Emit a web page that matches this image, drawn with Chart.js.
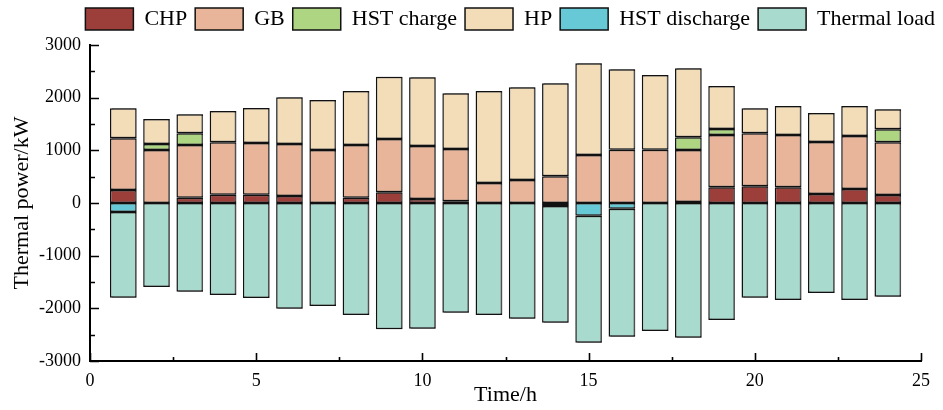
<!DOCTYPE html>
<html>
<head>
<meta charset="utf-8">
<script src="https://cdn.jsdelivr.net/npm/chart.js@4.4.0/dist/chart.umd.min.js"></script>
<style>
    html, body { margin: 0; padding: 0; background: #ffffff; }
    #wrap { width: 943px; height: 410px; }
</style>
</head>
<body>
<div id="wrap"><canvas id="heatChart"></canvas></div>
<script>
// ############ data (kW per hour) ############
const hours = [1, 2, 3, 4, 5, 6, 7, 8, 9, 10, 11, 12, 13, 14, 15, 16, 17, 18, 19, 20, 21, 22, 23, 24];

const chp = [245, 0, 100, 155, 155, 135, 0, 100, 205, 75, 35, 0, 0, 0, 0, 0, 0, 20, 300, 320, 300, 170, 265, 150];
const gb = [985, 1005, 1000, 1000, 985, 985, 1005, 1000, 1010, 1005, 990, 380, 435, 510, 910, 1010, 1010, 985, 990, 1005, 990, 990, 1005, 1005];
const hstCharge = [0, 115, 225, 0, 0, 0, 0, 0, 0, 0, 0, 0, 0, 0, 0, 0, 0, 245, 115, 0, 0, 0, 0, 245];
const hp = [570, 475, 360, 590, 665, 890, 950, 1025, 1180, 1310, 1060, 1745, 1765, 1765, 1745, 1530, 1420, 1310, 815, 475, 550, 550, 570, 380];
const hstDischarge = [-170, 0, 0, 0, 0, 0, 0, 0, 0, 0, 0, 0, 0, -55, -240, -110, 0, 0, 0, 0, 0, 0, 0, 0];
// total thermal load (negative side), discharge is part of it
const thermalLoad = [-1800, -1595, -1685, -1745, -1805, -2010, -1955, -2125, -2395, -2390, -2085, -2125, -2200, -2275, -2655, -2540, -2430, -2560, -2220, -1800, -1840, -1710, -1840, -1780];

const yTicks = [-3000, -2000, -1000, 0, 1000, 2000, 3000];
const xTicks = [0, 5, 10, 15, 20, 25];

const serif = "'Liberation Serif', 'Times New Roman', serif";

function toPoints(values) {
    return hours.map((h, i) => ({ x: h, y: values[i] }));
}

// load segment drawn below the discharge part
const loadRest = thermalLoad.map((v, i) => v - hstDischarge[i]);

function makeSet(label, values, color) {
    return {
        label: label,
        data: toPoints(values),
        backgroundColor: color,
        borderColor: "#111111",
        borderWidth: 1.5,
        borderSkipped: false,
        barPercentage: 0.8,
        categoryPercentage: 1.0,
    };
}

// gray drop shadow on the right of the bars
const barShadow = {
    id: "barShadow",
    beforeDatasetsDraw(chart) {
        const c = chart.ctx;
        c.save();
        c.shadowColor = "rgba(90,90,90,0.85)";
        c.shadowOffsetX = 2;
        c.shadowOffsetY = 0;
        c.shadowBlur = 0;
    },
    afterDatasetsDraw(chart) {
        chart.ctx.restore();
    },
};

// ticks pointing into the plot
const innerTicks = {
    id: "innerTicks",
    afterDraw(chart) {
        const c = chart.ctx;
        const area = chart.chartArea;
        const xs = chart.scales.x;
        const ys = chart.scales.y;
        c.save();
        c.strokeStyle = "#000";
        c.lineWidth = 1.6;
        c.beginPath();
        for (let v = -3000; v <= 3000; v += 500) {
            const py = Math.round(ys.getPixelForValue(v)) + 0.5;
            const len = v % 1000 === 0 ? 9 : 5;
            c.moveTo(area.left, py);
            c.lineTo(area.left + len, py);
        }
        for (let v = 0; v <= 25; v += 2.5) {
            const px = Math.round(xs.getPixelForValue(v)) + 0.5;
            const len = v % 5 === 0 ? 8 : 4;
            c.moveTo(px, area.bottom);
            c.lineTo(px, area.bottom - len);
        }
        c.stroke();
        c.restore();
    },
};

// fixed legend height
const legendHeight = {
    id: "legendHeight",
    beforeInit(chart) {
        const origFit = chart.legend.fit;
        chart.legend.fit = function () {
            origFit.bind(chart.legend)();
            this.height = 45;
        };
    },
};

document.addEventListener("DOMContentLoaded", function () {
    const ctx = document.getElementById("heatChart").getContext("2d");
    new Chart(ctx, {
        type: "bar",
        data: {
            datasets: [
                makeSet("CHP", chp, "#9c3f3b"),
                makeSet("GB", gb, "#e9b59a"),
                makeSet("HST charge", hstCharge, "#aed582"),
                makeSet("HP", hp, "#f3ddb9"),
                makeSet("HST discharge", hstDischarge, "#66c9d5"),
                makeSet("Thermal load", loadRest, "#a8dbcd"),
            ],
        },
        options: {
            responsive: true,
            maintainAspectRatio: false,
            animation: false,
            layout: { padding: 0 },
            plugins: {
                tooltip: { enabled: false },
                legend: {
                    position: "top",
                    align: "end",
                    labels: {
                        boxWidth: 48,
                        boxHeight: 22,
                        padding: 8,
                        color: "#000",
                        font: { family: serif, size: 22 },
                    },
                },
            },
            scales: {
                x: {
                    type: "linear",
                    stacked: true,
                    min: 0,
                    max: 25,
                    offset: false,
                    afterBuildTicks: function (scale) {
                        scale.ticks = xTicks.map((v) => ({ value: v }));
                    },
                    afterFit: function (scale) {
                        scale.height = 49;
                    },
                    grid: { display: false, drawTicks: false },
                    border: { display: true, color: "#000", width: 2 },
                    ticks: {
                        autoSkip: false,
                        maxRotation: 0,
                        padding: 9,
                        color: "#000",
                        font: { family: serif, size: 18 },
                        callback: (v) => String(v),
                    },
                    title: {
                        display: true,
                        text: "Time/h",
                        color: "#000",
                        padding: { top: 0, bottom: 2 },
                        font: { family: serif, size: 22 },
                    },
                },
                y: {
                    stacked: true,
                    min: -3000,
                    max: 3000,
                    afterBuildTicks: function (scale) {
                        scale.ticks = yTicks.map((v) => ({ value: v }));
                    },
                    afterFit: function (scale) {
                        scale.width = 90;
                    },
                    grid: { display: false, drawTicks: false },
                    border: { display: true, color: "#000", width: 2 },
                    ticks: {
                        padding: 9,
                        color: "#000",
                        font: { family: serif, size: 18 },
                        callback: (v) => String(v),
                    },
                    title: {
                        display: true,
                        text: "Thermal power/kW",
                        color: "#000",
                        padding: { top: 9, bottom: 0 },
                        font: { family: serif, size: 22 },
                    },
                },
                // empty right-hand spacer so the plot ends before the legend does
                ySpace: {
                    position: "right",
                    min: -3000,
                    max: 3000,
                    afterFit: function (scale) {
                        scale.width = 22;
                    },
                    grid: { display: false, drawTicks: false },
                    border: { display: false },
                    ticks: { display: false },
                },
            },
        },
        plugins: [barShadow, innerTicks, legendHeight],
    });
});
</script>
</body>
</html>
